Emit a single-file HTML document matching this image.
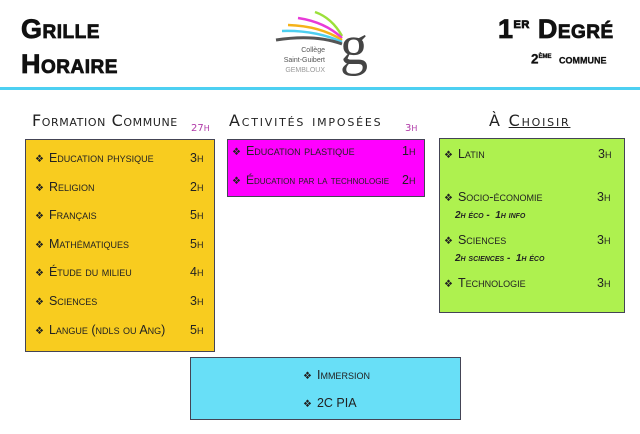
<!DOCTYPE html>
<html><head><meta charset="utf-8"><style>
*{margin:0;padding:0;box-sizing:border-box}
body{width:640px;height:434px;background:#fff;position:relative;overflow:hidden;font-family:"Liberation Sans",sans-serif;color:#222}
.a{position:absolute;white-space:nowrap}
.big{font-weight:900;font-variant:small-caps;font-size:27px;letter-spacing:0.5px;color:#111;-webkit-text-stroke:0.8px #111}
.h{font-family:"DejaVu Sans",sans-serif;font-variant:small-caps;font-size:16px;color:#222;letter-spacing:0.6px}
.it{font-variant:small-caps;font-size:12.5px;color:#222}
.hr{font-variant:small-caps;font-size:12.5px;color:#222}
.b{font-size:10px;margin-right:5px}
.box{position:absolute;border:1.5px solid #445}
.sub{font-style:italic;font-variant:small-caps;font-size:10px;font-weight:bold;color:#222}
</style></head><body>
<div class="a big" style="left:21px;top:14px">Grille</div>
<div class="a big" style="left:21px;top:49px">Horaire</div>
<div class="a big" style="left:498px;top:14px">1<sup style="font-size:15px">er</sup> Degré</div>
<div class="a" style="left:531px;top:50px;font-weight:900;font-variant:small-caps;font-size:13.5px;color:#111;-webkit-text-stroke:0.3px #111">2<sup style="font-size:9px">ème</sup>&nbsp; commune</div>
<svg class="a" style="left:270px;top:8px" width="110" height="78" viewBox="0 0 110 78">
<path d="M45 4 Q62 10 72 28" stroke="#9be03a" stroke-width="2.5" fill="none"/>
<path d="M28 10 Q55 14 72 30" stroke="#e83ad8" stroke-width="2.5" fill="none"/>
<path d="M18 17 Q50 18 72 32" stroke="#f5b31a" stroke-width="2.5" fill="none"/>
<path d="M12 23 Q45 22 72 34" stroke="#4dcff0" stroke-width="2.5" fill="none"/>
<path d="M6 32 Q45 26 72 36" stroke="#555" stroke-width="3" fill="none"/>
<text x="84" y="56" font-family="Liberation Serif" font-size="56" fill="#444" text-anchor="middle">g</text>
<text x="55" y="44" font-size="7" fill="#555" text-anchor="end" font-family="Liberation Sans">Collège</text>
<text x="55" y="54" font-size="7" fill="#555" text-anchor="end" font-family="Liberation Sans">Saint-Guibert</text>
<text x="55" y="64" font-size="7" fill="#999" text-anchor="end" font-family="Liberation Sans">GEMBLOUX</text>
</svg>
<div class="a" style="left:0;top:87px;width:640px;height:3px;background:#4dd0f2"></div>

<div class="a h" style="left:32px;top:111px">Formation Commune</div>
<div class="a" style="left:191px;top:123px;font-size:10px;color:#b03aa8;font-family:'DejaVu Sans'">27<span style="font-size:8px">H</span></div>
<div class="a h" style="left:229px;top:111px;letter-spacing:1.8px">Activités imposées</div>
<div class="a" style="left:405px;top:123px;font-size:10px;color:#b03aa8;font-family:'DejaVu Sans'">3<span style="font-size:8px">H</span></div>
<div class="a h" style="left:489px;top:111px;letter-spacing:1.8px">À <u>Choisir</u></div>

<div class="box" style="left:25px;top:139px;width:190px;height:213px;background:#f8cc1f"></div>
<div class="a it" style="left:35px;top:151px"><span class="b">❖</span>Education physique</div><div class="a hr" style="left:190px;top:151px">3h</div>
<div class="a it" style="left:35px;top:180px"><span class="b">❖</span>Religion</div><div class="a hr" style="left:190px;top:180px">2h</div>
<div class="a it" style="left:35px;top:208px"><span class="b">❖</span>Français</div><div class="a hr" style="left:190px;top:208px">5h</div>
<div class="a it" style="left:35px;top:237px"><span class="b">❖</span>Mathématiques</div><div class="a hr" style="left:190px;top:237px">5h</div>
<div class="a it" style="left:35px;top:265px"><span class="b">❖</span>Étude du milieu</div><div class="a hr" style="left:190px;top:265px">4h</div>
<div class="a it" style="left:35px;top:294px"><span class="b">❖</span>Sciences</div><div class="a hr" style="left:190px;top:294px">3h</div>
<div class="a it" style="left:35px;top:323px"><span class="b">❖</span>Langue (ndls ou Ang)</div><div class="a hr" style="left:190px;top:323px">5h</div>

<div class="box" style="left:227px;top:139px;width:198px;height:58px;background:#ff00ff"></div>
<div class="a it" style="left:232px;top:144px"><span class="b">❖</span>Education plastique</div><div class="a hr" style="left:402px;top:144px">1h</div>
<div class="a it" style="left:232px;top:173px;font-size:12px"><span class="b">❖</span>Éducation par la technologie</div><div class="a hr" style="left:402px;top:173px">2h</div>

<div class="box" style="left:439px;top:138px;width:186px;height:175px;background:#aef14f"></div>
<div class="a it" style="left:444px;top:147px"><span class="b">❖</span>Latin</div><div class="a hr" style="left:598px;top:147px">3h</div>
<div class="a it" style="left:444px;top:190px"><span class="b">❖</span>Socio-économie</div><div class="a hr" style="left:597px;top:190px">3h</div>
<div class="a sub" style="left:455px;top:210px">2h éco -&nbsp; 1h info</div>
<div class="a it" style="left:444px;top:233px"><span class="b">❖</span>Sciences</div><div class="a hr" style="left:597px;top:233px">3h</div>
<div class="a sub" style="left:455px;top:253px">2h sciences -&nbsp; 1h éco</div>
<div class="a it" style="left:444px;top:276px"><span class="b">❖</span>Technologie</div><div class="a hr" style="left:597px;top:276px">3h</div>

<div class="box" style="left:190px;top:357px;width:271px;height:63px;background:#68dff7"></div>
<div class="a it" style="left:303px;top:368px"><span class="b">❖</span>Immersion</div>
<div class="a it" style="left:303px;top:396px"><span class="b">❖</span>2C PIA</div>
</body></html>
